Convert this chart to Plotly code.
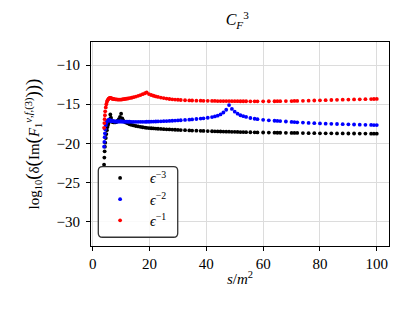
import plotly.graph_objects as go

# shared s/m^2 sample positions
s_vals = [
    4.0, 4.1, 4.2, 4.3, 4.4, 4.6, 4.8, 5.0, 5.2, 5.4,
    5.6, 5.8, 6.0, 6.2, 6.4, 6.6, 6.8, 7.0, 7.3, 7.6,
    8.0, 8.4, 8.8, 9.2, 9.6, 10.0, 10.4, 10.8, 11.3, 11.8,
    12.4, 13.0, 13.7, 14.4, 15.2, 16.0, 16.8, 17.6, 18.4, 19.0,
    19.8, 20.6, 21.4, 22.2, 23.0, 24.0, 25.0, 26.0, 27.0, 28.0,
    29.0, 30.0, 31.0, 32.5, 34.0, 35.0, 36.5, 38.0, 39.0, 40.5,
    42.0, 43.0, 44.0, 45.0, 46.0, 47.0, 48.0, 49.0, 50.0, 51.0,
    52.0, 53.0, 54.0, 55.5, 57.0, 58.0, 60.0, 62.0, 64.0, 65.0,
    66.0, 68.0, 70.0, 71.0, 72.0, 74.0, 76.0, 78.0, 80.0, 82.0,
    84.0, 86.0, 88.0, 90.0, 92.0, 94.0, 96.0, 98.0, 99.0, 100.0,
]

eps3 = [
    -22.7, -21.8, -21.0, -20.4, -19.9, -19.3, -18.8, -18.3, -17.9, -17.6,
    -17.4, -17.2, -16.9, -16.3, -16.7, -17.0, -17.2, -17.25, -17.3, -17.3,
    -17.3, -17.25, -17.1, -16.9, -16.6, -16.2, -16.8, -17.1, -17.25, -17.35,
    -17.45, -17.55, -17.63, -17.7, -17.77, -17.83, -17.88, -17.93, -17.97, -18.0,
    -18.03, -18.06, -18.08, -18.1, -18.12, -18.15, -18.17, -18.19, -18.21, -18.23,
    -18.25, -18.27, -18.29, -18.31, -18.33, -18.35, -18.37, -18.39, -18.4, -18.42,
    -18.44, -18.45, -18.46, -18.47, -18.48, -18.49, -18.5, -18.51, -18.52, -18.53,
    -18.54, -18.55, -18.56, -18.57, -18.58, -18.59, -18.6, -18.61, -18.62, -18.63,
    -18.63, -18.64, -18.65, -18.66, -18.66, -18.67, -18.68, -18.69, -18.7, -18.7,
    -18.71, -18.72, -18.72, -18.73, -18.73, -18.74, -18.74, -18.75, -18.75, -18.75,
]

eps2 = [
    -20.4, -19.8, -19.2, -18.7, -18.2, -17.7, -17.4, -17.2, -17.1, -17.05,
    -17.0, -17.0, -17.05, -17.1, -17.1, -17.1, -17.15, -17.15, -17.15, -17.2,
    -17.2, -17.2, -17.2, -17.2, -17.2, -17.2, -17.2, -17.22, -17.22, -17.22,
    -17.23, -17.23, -17.24, -17.24, -17.24, -17.24, -17.24, -17.24, -17.24, -17.23,
    -17.23, -17.22, -17.21, -17.2, -17.19, -17.18, -17.16, -17.14, -17.12, -17.1,
    -17.08, -17.06, -17.04, -17.0, -16.96, -16.93, -16.88, -16.83, -16.79, -16.72,
    -16.63, -16.55, -16.45, -16.3, -16.05, -15.7, -15.1, -15.6, -15.95, -16.2,
    -16.4, -16.52, -16.62, -16.75, -16.85, -16.9, -16.98, -17.05, -17.1, -17.13,
    -17.15, -17.2, -17.25, -17.27, -17.3, -17.34, -17.38, -17.41, -17.44, -17.47,
    -17.5, -17.52, -17.54, -17.56, -17.58, -17.6, -17.62, -17.64, -17.65, -17.66,
]

eps1 = [
    -18.0, -17.4, -16.9, -16.4, -15.9, -15.4, -15.0, -14.7, -14.5, -14.4,
    -14.3, -14.25, -14.2, -14.2, -14.22, -14.25, -14.28, -14.3, -14.32, -14.35,
    -14.37, -14.38, -14.4, -14.4, -14.4, -14.4, -14.38, -14.36, -14.33, -14.3,
    -14.27, -14.22, -14.17, -14.1, -14.02, -13.93, -13.83, -13.72, -13.6, -13.5,
    -13.7, -13.82, -13.92, -14.0, -14.07, -14.15, -14.22, -14.28, -14.33, -14.37,
    -14.4, -14.43, -14.46, -14.49, -14.51, -14.52, -14.54, -14.55, -14.56, -14.57,
    -14.58, -14.58, -14.59, -14.59, -14.6, -14.6, -14.6, -14.61, -14.61, -14.61,
    -14.62, -14.62, -14.62, -14.63, -14.63, -14.63, -14.63, -14.62, -14.62, -14.61,
    -14.61, -14.6, -14.59, -14.58, -14.58, -14.56, -14.54, -14.52, -14.5, -14.48,
    -14.46, -14.44, -14.42, -14.4, -14.38, -14.37, -14.35, -14.34, -14.33, -14.32,
]

series_names = ["<i>ϵ</i><sup>−3</sup>", "<i>ϵ</i><sup>−2</sup>", "<i>ϵ</i><sup>−1</sup>"]
series_colors = ["black", "blue", "red"]
x_ticks = [0, 20, 40, 60, 80, 100]
y_ticks = [-30, -25, -20, -15, -10]

FONT = "Liberation Serif, DejaVu Serif, serif"

fig = go.Figure()
for name, color, ys in zip(series_names, series_colors, [eps3, eps2, eps1]):
    fig.add_trace(go.Scatter(
        x=s_vals, y=ys, mode="markers", name=name,
        marker=dict(color=color, size=3.8, line=dict(width=0)),
    ))

# rounded legend frame (matplotlib style)
x0, x1, y0, y1 = 0.0245, 0.291, 0.043, 0.389
rx, ry = 0.014, 0.02
path = (f"M {x0+rx},{y0} L {x1-rx},{y0} Q {x1},{y0} {x1},{y0+ry} "
        f"L {x1},{y1-ry} Q {x1},{y1} {x1-rx},{y1} L {x0+rx},{y1} "
        f"Q {x0},{y1} {x0},{y1-ry} L {x0},{y0+ry} Q {x0},{y0} {x0+rx},{y0} Z")
fig.add_shape(type="path", path=path, xref="paper", yref="paper",
              line=dict(color="#333333", width=1.3),
              fillcolor="rgba(255,255,255,0.85)", layer="above")

axis_common = dict(
    showline=True, linecolor="black", linewidth=1, mirror=True,
    ticks="outside", ticklen=4, tickwidth=1, tickcolor="black",
    showgrid=True, gridcolor="#dcdcdc", gridwidth=0.6,
    zeroline=False, automargin=False,
    tickfont=dict(family=FONT, size=15, color="black"),
)

big = '<span style="font-size:19px">'
ytitle = (f"log<sub>10</sub>{big}(</span>δ{big}(</span>Im{big}(</span>"
          f"<i>F</i><sub>1</sub><sup><i>v</i>,<i>f</i>,(3)</sup>"
          f"{big})</span>{big})</span>{big})</span>")

fig.update_layout(
    width=410, height=313,
    margin=dict(l=83, r=29, t=34, b=75),
    paper_bgcolor="white", plot_bgcolor="white",
    font=dict(family=FONT, color="black"),
    title=dict(text="<i>C</i><sub><i>F</i></sub><sup>3</sup>", x=0.559, xanchor="center",
               y=0.962, yanchor="middle", font=dict(family=FONT, size=16)),
    xaxis=dict(range=[-0.6, 104.3], tickvals=x_ticks,
               title=dict(text="<i>s</i>/<i>m</i><sup>2</sup>", standoff=2,
                          font=dict(family=FONT, size=15)),
               **axis_common),
    yaxis=dict(range=[-33.06, -7.07], tickvals=y_ticks,
               ticklabelstandoff=3,
               title=dict(text=ytitle, standoff=13, font=dict(family=FONT, size=15)),
               **axis_common),
    legend=dict(x=-0.003, y=0.41, xanchor="left", yanchor="top",
                bgcolor="rgba(0,0,0,0)", borderwidth=0,
                itemwidth=50, font=dict(family=FONT, size=14),
                tracegroupgap=0),
    showlegend=True,
)

fig.write_html("out.html")
